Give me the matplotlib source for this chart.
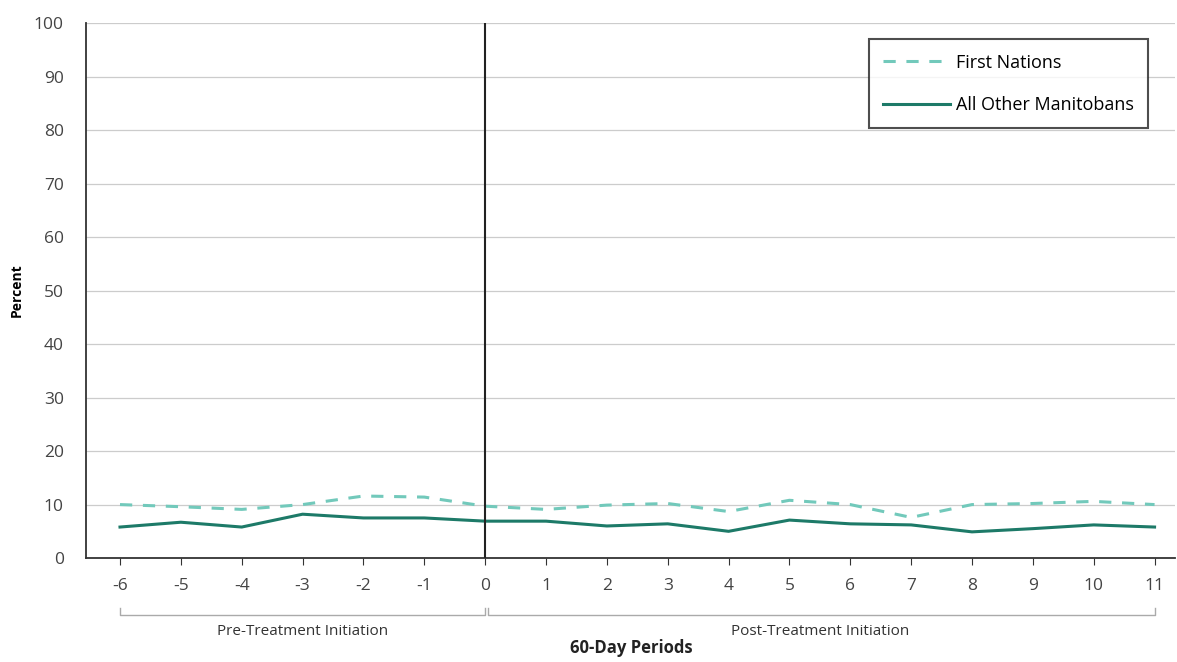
import matplotlib.pyplot as plt
import matplotlib.transforms as mtransforms

periods = list(range(-6, 12))
first_nations = [10.0, 9.6, 9.1, 10.0, 11.6, 11.4, 9.7, 9.1, 9.9, 10.2, 8.7, 10.8, 10.0, 7.6, 10.0, 10.2, 10.6, 10.0]
all_other = [5.8, 6.7, 5.8, 8.2, 7.5, 7.5, 6.9, 6.9, 6.0, 6.4, 5.0, 7.1, 6.4, 6.2, 4.9, 5.5, 6.2, 5.8]
y_ticks = list(range(0, 101, 10))
groups = [("Pre-Treatment Initiation", -6, 0), ("Post-Treatment Initiation", 0, 11)]

plt.rcParams['font.family'] = ['Open Sans', 'DejaVu Sans']
plt.rcParams['axes.unicode_minus'] = False

fig = plt.figure(figsize=(11.77, 6.62), dpi=100)
ax = fig.add_axes([0.073, 0.157, 0.925, 0.808])

ax.plot(periods, first_nations, color='#72c9bb', lw=2.2, ls=(0, (4, 3.5)), label='First Nations')
ax.plot(periods, all_other, color='#1d7a68', lw=2.2, label='All Other Manitobans')
ax.axvline(0, color='#222222', lw=1.5, zorder=3)

ax.set_ylim(0, 100)
ax.set_xlim(-6.56, 11.33)
ax.set_yticks(y_ticks)
ax.set_xticks(periods)
ax.grid(axis='y', color='#cccccc', lw=0.9)
ax.set_axisbelow(True)
for s in ['top', 'right']:
    ax.spines[s].set_visible(False)
for s in ['left', 'bottom']:
    ax.spines[s].set_color('#333333')
    ax.spines[s].set_linewidth(1.3)
ax.tick_params(axis='y', length=0, labelsize=12.5, labelcolor='#444444', pad=16)
ax.tick_params(axis='x', length=5, color='#333333', labelsize=12.5, labelcolor='#444444', pad=9)

ax.set_ylabel('Percent', fontsize=10, fontweight='bold', labelpad=7)

# group brackets under the x tick labels
trans = mtransforms.blended_transform_factory(ax.transData, ax.transAxes)
for name, x0, x1 in groups:
    pad = 0.05 if x0 == 0 else 0
    ax.plot([x0 + pad, x0 + pad, x1, x1], [-0.094, -0.107, -0.107, -0.094], transform=trans,
            color='#aaaaaa', lw=1, clip_on=False)
    ax.text((x0 + x1) / 2, -0.124, name, transform=trans, ha='center', va='top',
            fontsize=11, color='#333333')
ax.text(0.5 * (periods[0] + periods[-1]) - 0.1, -0.152, '60-Day Periods', transform=trans,
        ha='center', va='top', fontsize=12, fontweight='bold', color='#222222')

leg = ax.legend(loc='upper right', bbox_to_anchor=(0.9755, 0.97), fontsize=13, frameon=True,
                fancybox=False, edgecolor='#222222', handlelength=3.7, borderpad=0.8,
                labelspacing=1.35, handletextpad=0.3, borderaxespad=0)
leg.get_frame().set_linewidth(1.5)

fig.savefig('out.png', dpi=100)
